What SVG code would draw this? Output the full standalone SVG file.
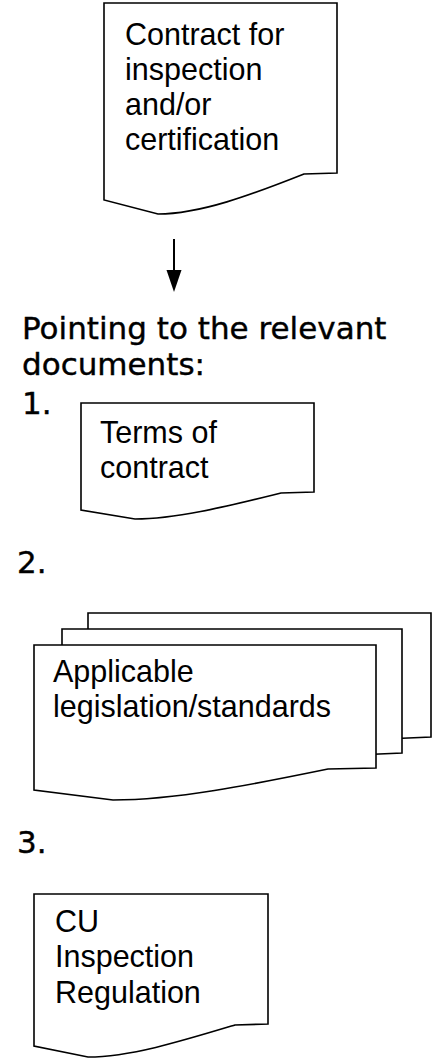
<svg xmlns="http://www.w3.org/2000/svg" width="437" height="1059" viewBox="0 0 437 1059">
<style>
.doc{fill:#fff;stroke:#000;stroke-width:1.6;stroke-linejoin:miter}
.t{font-family:"Liberation Sans",Arial,sans-serif;font-size:30.5px;fill:#000}
.h{font-family:"DejaVu Sans",Verdana,sans-serif;font-size:31px;fill:#000;stroke:#000;stroke-width:0.4}
.arrow{stroke:#000;stroke-width:2}
.head{fill:#000}
</style>
<rect width="437" height="1059" fill="#fff"/>
<g id="contract">
<path class="doc" d="M104,3 H337 V173 L304,174 C251,195 200,214 158,214 L104,200 Z"/>
<text class="t" x="125" y="45">Contract for</text>
<text class="t" x="125" y="80">inspection</text>
<text class="t" x="125" y="115">and/or</text>
<text class="t" x="125" y="150">certification</text>
</g>
<g id="connectors">
<line class="arrow" x1="174" y1="239" x2="174" y2="271"/>
<path class="head" d="M166.5,270 L181.5,270 L174,292 Z"/>
</g>
<g id="heading">
<text class="h" x="22" y="339">Pointing to the relevant</text>
<text class="h" x="22" y="375">documents:</text>
<text class="h" x="22" y="414">1.</text>
<text class="h" x="17" y="573">2.</text>
<text class="h" x="17" y="853">3.</text>
</g>
<g id="terms">
<path class="doc" d="M81,403 H314 V492 L281,493 C228,506 177,519 135,519 L81,510 Z"/>
<text class="t" x="100" y="443">Terms of</text>
<text class="t" x="100" y="478">contract</text>
</g>
<g id="legislation">
<path class="doc" d="M88,613 H431 V737 L385,739 C310,752 240,766 170,766 L88,756 Z"/>
<path class="doc" d="M62,629 H402 V753 L356,755 C280,770 200,785 141,785 L62,775 Z"/>
<path class="doc" d="M34,645 H376 V768 L328,769 C250,785 175,800 113,800 L34,790 Z"/>
<text class="t" x="53" y="682">Applicable</text>
<text class="t" x="53" y="717">legislation/standards</text>
</g>
<g id="regulation">
<path class="doc" d="M34,894 H268 V1024 L235,1025 C182,1041 130,1057 88,1057 L34,1046 Z"/>
<text class="t" x="55" y="932">CU</text>
<text class="t" x="55" y="967">Inspection</text>
<text class="t" x="55" y="1003">Regulation</text>
</g>
</svg>
